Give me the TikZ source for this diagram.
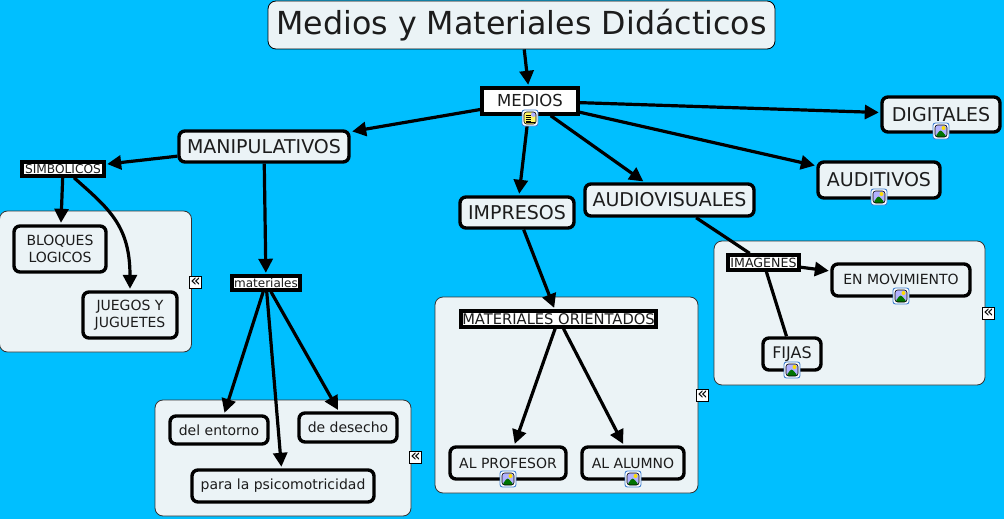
\documentclass[tikz,border=0pt]{standalone}
\usepackage{fontspec}
\setmainfont{DejaVu Sans}
\usetikzlibrary{arrows.meta}
\definecolor{skyback}{HTML}{00BFFF}
\definecolor{panelfill}{HTML}{EBF3F6}
\definecolor{inktext}{HTML}{1C1C1C}
\definecolor{iconblue}{HTML}{3F7FD0}
\tikzset{
  concept/.style={draw=black,line width=3.4pt,rounded corners=6pt,fill=panelfill,
    text=inktext,inner sep=0pt,align=center,font=\fontsize{14}{17}\selectfont},
  bigconcept/.style={concept,font=\fontsize{19}{22}\selectfont},
  linkbox/.style={draw=black,line width=3.4pt,fill=white,text=inktext,inner sep=0pt,
    font=\fontsize{12.2}{14}\selectfont},
  panel/.style={draw=black!80,line width=0.8pt,rounded corners=8pt,fill=panelfill,
    inner sep=0pt},
  conn/.style={line width=3.2pt,-{Triangle[length=14pt,width=14pt]},shorten >=1.5pt},
  plainconn/.style={line width=3.2pt},
  collapse/.style={draw=black,line width=1.2pt,fill=white,inner sep=0pt,
    minimum width=12pt,minimum height=12pt,font=\fontsize{17}{17}\selectfont},
  iconbase/.style={draw=iconblue,line width=0.9pt,rounded corners=2.5pt,fill=white,
    inner sep=0pt,minimum width=16pt,minimum height=16pt},
  imgicon/.style={iconbase,path picture={
    \fill[blue!30!white] ([shift={(-6,-6)}]path picture bounding box.center) rectangle ++(12,12) ;
    \fill[yellow!80!orange] ([shift={(2.5,-3)}]path picture bounding box.center) circle (2pt) ;
    \fill[green!45!black] ([shift={(-6,6)}]path picture bounding box.center) -- ++(5.5,-7.5) -- ++(6.5,7.5) -- cycle ;
    \draw[black,line width=0.6pt] ([shift={(-6,-6)}]path picture bounding box.center) rectangle ++(12,12) ;
  }},
  docicon/.style={iconbase,path picture={
    \fill[yellow!60!white] ([shift={(-6,-6)}]path picture bounding box.center) rectangle ++(12,12) ;
    \fill[blue!30!white] ([shift={(1,-6)}]path picture bounding box.center) rectangle ++(5,5) ;
    \draw[black,line width=0.6pt] ([shift={(-6,-6)}]path picture bounding box.center) rectangle ++(12,12) ;
    \foreach \rowy in {-3,-1,1,3}
      \draw[black,line width=0.7pt] ([shift={(-4.5,\rowy)}]path picture bounding box.center) -- ++(5,0) ;
    \draw[black,line width=0.7pt] ([shift={(-4.5,4.5)}]path picture bounding box.center) -- ++(9,0) ;
  }},
}
\begin{document}
\begin{tikzpicture}[x=1pt,y=-1pt]
    \useasboundingbox (0,0) rectangle (1004,519) ;
    \fill[skyback] (0,0) rectangle (1004,519) ;
    % panels
    \node[panel,minimum width=192pt,minimum height=141pt] (panelSimbolicos) at (95.5,281.5) {} ;
    \node[panel,minimum width=256pt,minimum height=116pt] (panelMateriales) at (283,458) {} ;
    \node[panel,minimum width=263pt,minimum height=196pt] (panelOrientados) at (566.5,395) {} ;
    \node[panel,minimum width=271pt,minimum height=144pt] (panelImagenes) at (849.5,313) {} ;
    \node[collapse] (foldSimbolicos) at (195.5,282.5) {«} ;
    \node[collapse] (foldMateriales) at (415.5,457.5) {«} ;
    \node[collapse] (foldOrientados) at (702.5,395.5) {«} ;
    \node[collapse] (foldImagenes) at (988.5,313.5) {«} ;
    % concepts
    \node[concept,draw=black,line width=0.8pt,rounded corners=8pt,minimum width=507pt,minimum height=48pt,font=\fontsize{31.7}{36}\selectfont] (title) at (521.5,25) {\raisebox{-1.5pt}{Medios y Materiales Didácticos}} ;
    \node[linkbox,minimum width=96pt,minimum height=26pt,font=\fontsize{16.5}{19}\selectfont] (medios) at (530,101) {\raisebox{1pt}{MEDIOS}} ;
    \node[bigconcept,minimum width=170pt,minimum height=31pt] (manipulativos) at (264,146.5) {MANIPULATIVOS} ;
    \node[bigconcept,minimum width=118pt,minimum height=35pt] (digitales) at (941,114.5) {DIGITALES} ;
    \node[bigconcept,minimum width=122pt,minimum height=36pt] (auditivos) at (879,180) {AUDITIVOS} ;
    \node[bigconcept,minimum width=169pt,minimum height=32pt] (audiovisuales) at (669.5,200) {AUDIOVISUALES} ;
    \node[bigconcept,minimum width=114pt,minimum height=31pt] (impresos) at (517,212.5) {IMPRESOS} ;
    \node[linkbox,minimum width=82pt,minimum height=14pt] (simbolicos) at (63,169) {SIMBOLICOS} ;
    \node[concept,minimum width=92pt,minimum height=46pt] (bloques) at (60,249) {BLOQUES\\LOGICOS} ;
    \node[concept,minimum width=94pt,minimum height=46pt] (juegos) at (130,315) {JUEGOS Y\\JUGUETES} ;
    \node[linkbox,minimum width=68pt,minimum height=14pt,font=\fontsize{12}{14}\selectfont] (materiales) at (266,283) {materiales} ;
    \node[concept,minimum width=98pt,minimum height=28pt] (entorno) at (219,430) {del entorno} ;
    \node[concept,minimum width=98pt,minimum height=29pt] (desecho) at (348,427.5) {de desecho} ;
    \node[concept,minimum width=182pt,minimum height=32pt] (psico) at (283,486) {para la psicomotricidad} ;
    \node[linkbox,minimum width=195pt,minimum height=16pt,font=\fontsize{14.7}{17}\selectfont] (orientados) at (558.5,319) {MATERIALES ORIENTADOS} ;
    \node[concept,minimum width=116pt,minimum height=32pt] (profesor) at (508,463) {AL PROFESOR} ;
    \node[concept,minimum width=102pt,minimum height=32pt] (alumno) at (633,463) {AL ALUMNO} ;
    \node[linkbox,minimum width=71pt,minimum height=15pt,font=\fontsize{12.6}{14}\selectfont] (imagenes) at (763.5,262.5) {IMAGENES} ;
    \node[concept,minimum width=138pt,minimum height=32pt] (movimiento) at (901,280) {\raisebox{1pt}{EN MOVIMIENTO}} ;
    \node[concept,minimum width=58pt,minimum height=32pt,font=\fontsize{16}{18}\selectfont] (fijas) at (792,354) {FIJAS} ;
    % connectors
    \draw[conn] (title) -- (medios) ;
    \draw[conn] (medios) -- (manipulativos) ;
    \draw[conn] (medios) -- (digitales) ;
    \draw[conn] (medios) -- (auditivos) ;
    \draw[conn] (medios) -- (audiovisuales) ;
    \draw[conn] (medios) -- (impresos) ;
    \draw[conn] (manipulativos) -- (simbolicos) ;
    \draw[conn] (manipulativos) -- (materiales) ;
    \draw[conn] (simbolicos) -- (bloques) ;
    \draw[conn] ([xshift=11pt]simbolicos.south) .. controls (108,208) and (130,225) .. (juegos.north) ;
    \draw[conn] (materiales) -- (entorno) ;
    \draw[conn] (materiales) -- (desecho) ;
    \draw[conn] (materiales) -- (psico) ;
    \draw[conn] (impresos) -- (orientados) ;
    \draw[conn] (orientados) -- (profesor) ;
    \draw[conn] (orientados) -- (alumno) ;
    \draw[plainconn] (audiovisuales) -- (imagenes) ;
    \draw[conn] (imagenes) -- (movimiento) ;
    \draw[plainconn] (imagenes) -- (fijas) ;
    % icons
    \node[docicon] (iconMedios) at (530,118) {} ;
    \node[imgicon] (iconDigitales) at (941,131) {} ;
    \node[imgicon] (iconAuditivos) at (879,197) {} ;
    \node[imgicon] (iconProfesor) at (508,479) {} ;
    \node[imgicon] (iconAlumno) at (633,479) {} ;
    \node[imgicon] (iconMovimiento) at (901,296) {} ;
    \node[imgicon] (iconFijas) at (792,370) {} ;
  \end{tikzpicture}
\end{document}
